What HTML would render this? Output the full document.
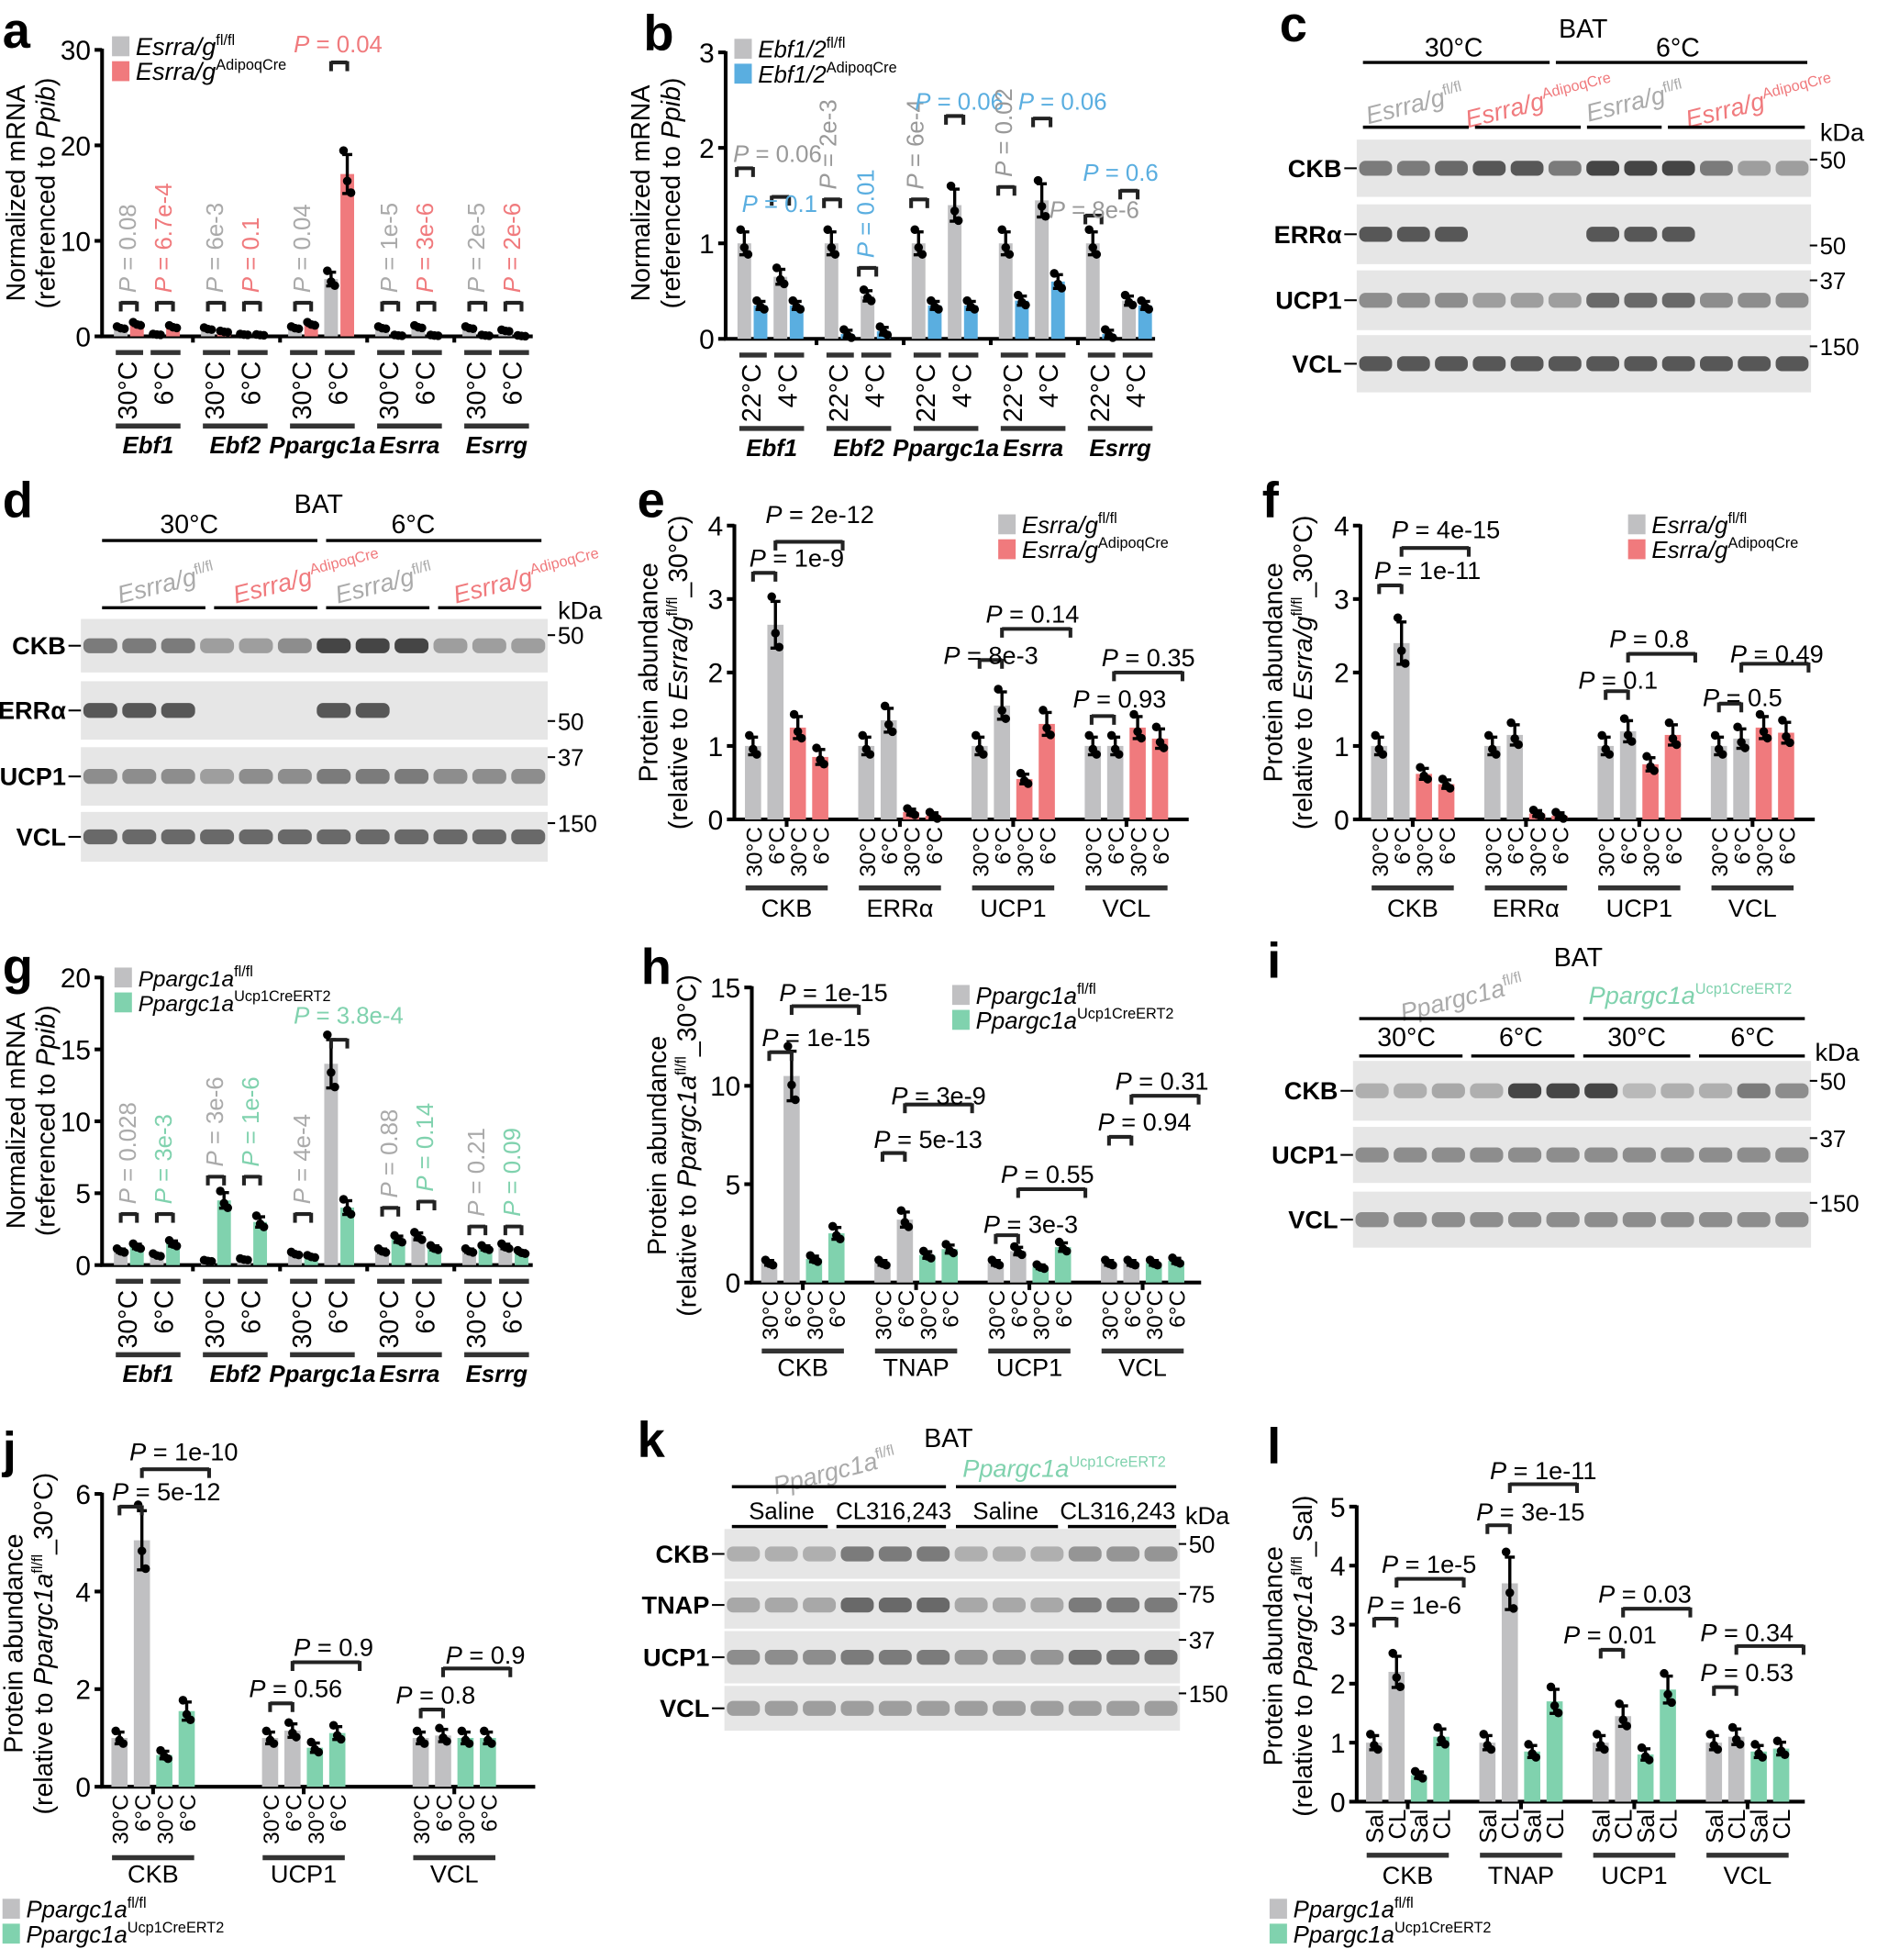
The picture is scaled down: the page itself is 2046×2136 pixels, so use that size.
<!DOCTYPE html>
<html><head><meta charset="utf-8"><style>
html,body{margin:0;padding:0;background:#fff;}
svg{display:block;}
text{font-family:"Liberation Sans",Arial,sans-serif;}
</style></head><body>
<svg id="s" xmlns="http://www.w3.org/2000/svg" width="2046" height="2136" viewBox="0 0 1508 1574"></svg>
<script>
let s='';
const GR='#c0c0c2',RD='#f07a7d',BL='#5aaee0',GN='#80d2ae';
const R=(x,y,w,h,f,o=1)=>s+=`<rect x="${x}" y="${y}" width="${w}" height="${h}" fill="${f}" opacity="${o}"/>`;
const L=(x1,y1,x2,y2,w=2.5,c='#000')=>s+=`<line x1="${x1}" y1="${y1}" x2="${x2}" y2="${y2}" stroke="${c}" stroke-width="${w}"/>`;
const T=(x,y,t,sz=20,a='middle',f='#000',ex='')=>s+=`<text x="${x}" y="${y}" font-size="${sz}" text-anchor="${a}" fill="${f}" ${ex}>${t}</text>`;
const TR=(x,y,t,sz=20,a='end',f='#000',ex='')=>s+=`<text x="${x}" y="${y}" font-size="${sz}" text-anchor="${a}" fill="${f}" transform="rotate(-90 ${x} ${y})" ${ex}>${t}</text>`;
const C=(x,y,r=3.5)=>s+=`<circle cx="${x}" cy="${y}" r="${r}" fill="#000"/>`;
function axis(x,y0,ppu,ticks,xend){
  L(x,y0,x,y0-ppu*ticks[ticks.length-1]-1,3);
  ticks.forEach(t=>{const y=y0-ppu*t;L(x-6,y,x,y,3);T(x-9,y+8,t,22,'end');});
  L(x-1.5,y0,xend,y0,3);
}
function bar(x,w,y0,ppu,v,c){
  const h=v*ppu;R(x-w/2,y0-h,w,h,c);
  const e=Math.max(v*0.12,0.04)*ppu;
  L(x,y0-h-e,x,y0-h+e,2.5);L(x-4,y0-h-e,x+4,y0-h-e,2.5);L(x-4,y0-h+e,x+4,y0-h+e,2.5);
  const d=[-1,0.3,0.8,-0.4];
  for(let i=0;i<3;i++)C(x+(i-1)*3,y0-h+d[i]*e*1.2);
}
function bracket(x1,x2,y,c='#222'){L(x1,y,x2,y,3,c);L(x1,y-1,x1,y+7,3,c);L(x2,y-1,x2,y+7,3,c);}
function P(x,y,v,sz=20,c='#000',a='start'){T(x,y,`<tspan font-style="italic">P</tspan> = ${v}`,sz,a,c);}
function PR(x,y,v,c){TR(x,y,`<tspan font-style="italic">P</tspan> = ${v}`,19,'start',c);}
function ytitle(x,y,l1,l2){TR(x,y,l1,21,'middle');TR(x+24,y,l2,21,'middle');}
function leg(x,y,c1,c2,n,s1,s2,sz=20){R(x,y-15,14,16,c1);R(x,y+5,14,16,c2);
  T(x+19,y,`<tspan font-style="italic">${n}</tspan><tspan font-size="12" dy="-8">${s1}</tspan>`,sz,'start');
  T(x+19,y+20,`<tspan font-style="italic">${n}</tspan><tspan font-size="12" dy="-8">${s2}</tspan>`,sz,'start');}
function blot(x,y,w,h,n,ints,label){
  R(x,y,w,h,'#e6e6e6');
  const lw=w/n;
  for(let i=0;i<n;i++){const v=ints[i%ints.length];if(v>0)s+=`<rect x="${x+i*lw+2}" y="${y+h/2-6}" width="${lw-4}" height="12" rx="5" fill="#333" opacity="${v}"/>`;}
  T(x-12,y+h/2+7,label,20,'end','#000','font-weight="bold"');L(x-10,y+h/2,x,y+h/2,1.5);
}
function kd(x,y,t){L(x-6,y,x,y,1.5);T(x+2,y+7,t,19,'start');}
function letter(x,y,l){T(x,y,l,40,'start','#000','font-weight="bold"');}
function rot4(x,labs,y,sz){labs.forEach((l,i)=>TR(x[i]+7,y,l,sz));}

/* ===== a ===== */
letter(2,38,'a');
axis(82,270,7.67,[0,10,20,30],428);
ytitle(20,155,'Normalized mRNA','(referenced to <tspan font-style="italic">Ppib</tspan>)');
leg(90,44,GR,RD,'Esrra/g','fl/fl','AdipoqCre');
function genepanel(ax,y0,ppu,vals,c2,gen,pv,py,condA,condB){
  vals.forEach((v,i)=>{const g=ax+6+70*i;
    bar(g+9,11,y0,ppu,v[0],GR);bar(g+22,11,y0,ppu,v[1],c2);
    bar(g+38,11,y0,ppu,v[2],GR);bar(g+51,11,y0,ppu,v[3],c2);
    L(g+5,y0+13,g+27,y0+13,4,'#333');L(g+33,y0+13,g+57,y0+13,4,'#333');
    TR(g+22,y0+20,condA,21);TR(g+51,y0+20,condB,21);
    L(g+5,y0+72,g+57,y0+72,4,'#333');
    T(g+31,y0+94,gen[i],19,'middle','#000','font-weight="bold" font-style="italic"');
    if(i>0)L(g-3,y0,g-3,y0+5,3);
    if(pv){
      if(pv[i][0]){bracket(g+9,g+22,py[i][0]);PR(g+21,py[i][0]-8,pv[i][0],'#aaa');}
      if(pv[i][1]){bracket(g+38,g+51,py[i][1]);PR(g+50,py[i][1]-8,pv[i][1],c2);}
    }
  });
}
genepanel(82,270,7.67,[[0.9,1.3,0.2,1],[0.8,0.5,0.2,0.15],[0.9,1.3,6,17],[0.9,0.1,1,0.1],[0.9,0.1,0.6,0.05]],RD,
 ['Ebf1','Ebf2','Ppargc1a','Esrra','Esrrg'],
 [['0.08','6.7e-4'],['6e-3','0.1'],['0.04',''],['1e-5','3e-6'],['2e-5','2e-6']],
 [[243,243],[243,243],[243,243],[243,243],[243,243]],'30°C','6°C');
bracket(266,279,50);P(236,42,'0.04',19,RD);

/* ===== b ===== */
letter(517,40,'b');
axis(583,272,76.7,[0,1,2,3],928);
ytitle(522,155,'Normalized mRNA','(referenced to <tspan font-style="italic">Ppib</tspan>)');
leg(590,46,GR,BL,'Ebf1/2','fl/fl','AdipoqCre',19);
genepanel(583,272,76.7,[[1,0.35,0.65,0.35],[1,0.05,0.45,0.08],[1,0.35,1.4,0.35],[1,0.4,1.45,0.6],[1,0.05,0.4,0.35]],BL,
 ['Ebf1','Ebf2','Ppargc1a','Esrra','Esrrg'],null,null,'22°C','4°C');
bracket(592,605,135);P(589,130,'0.06',19,'#999');bracket(620,634,158);P(596,170,'0.1',19,BL);
bracket(662,675,160);PR(672,152,'2e-3','#999');bracket(690,704,215);PR(702,207,'0.01',BL);
bracket(732,745,160);PR(742,152,'6e-4','#999');bracket(760,774,93);P(735,88,'0.06',19,BL);
bracket(802,815,150);PR(813,142,'0.02','#999');bracket(830,844,95);P(818,88,'0.06',19,BL);
bracket(872,885,173);P(843,175,'8e-6',19,'#999');bracket(900,914,153);P(870,145,'0.6',19,BL);

/* ===== c ===== */
letter(1028,33,'c');
T(1272,30,'BAT',21);T(1168,45,'30°C',21);T(1348,45,'6°C',21);
L(1095,50,1245,50,2.5);L(1250,50,1452,50,2.5);
const gl=(x,y,t,sup,c)=>T(x,y,`<tspan font-style="italic">${t}</tspan><tspan font-size="12" dy="-8">${sup}</tspan>`,20,'middle',c,`transform="rotate(-14 ${x} ${y})"`);
gl(1138,90,'Esrra/g','fl/fl','#aaa');gl(1238,88,'Esrra/g','AdipoqCre',RD);gl(1315,88,'Esrra/g','fl/fl','#aaa');gl(1415,88,'Esrra/g','AdipoqCre',RD);
L(1095,102,1180,102,2.5);L(1185,102,1270,102,2.5);L(1275,102,1335,102,2.5);L(1340,102,1450,102,2.5);
T(1480,113,'kDa',20);
blot(1090,112,365,46,12,[.6,.6,.7,.8,.8,.6,.9,.9,.9,.6,.4,.4],'CKB');kd(1460,128,'50');
blot(1090,164,365,48,12,[.8,.8,.8,0,0,0,.8,.8,.8,0,0,0],'ERRα');kd(1460,197,'50');
blot(1090,217,365,48,12,[.5,.5,.5,.4,.4,.4,.7,.7,.7,.5,.5,.5],'UCP1');kd(1460,225,'37');
blot(1090,269,365,46,12,[.8],'VCL');kd(1460,278,'150');

/* ===== d ===== */
letter(2,415,'d');
T(256,412,'BAT',21);T(152,428,'30°C',21);T(332,428,'6°C',21);
L(82,434,255,434,2.5);L(262,434,435,434,2.5);
gl(135,475,'Esrra/g','fl/fl','#aaa');gl(248,470,'Esrra/g','AdipoqCre',RD);gl(310,475,'Esrra/g','fl/fl','#aaa');gl(425,470,'Esrra/g','AdipoqCre',RD);
L(82,488,165,488,2.5);L(172,488,255,488,2.5);L(262,488,345,488,2.5);L(352,488,435,488,2.5);
T(466,497,'kDa',20);
blot(65,497,375,43,12,[.6,.6,.6,.4,.4,.5,.9,.9,.9,.4,.4,.4],'CKB');kd(446,510,'50');
blot(65,547,375,47,12,[.8,.8,.8,0,0,0,.8,.8,0,0,0,0],'ERRα');kd(446,579,'50');
blot(65,600,375,47,12,[.5,.5,.5,.4,.5,.5,.6,.6,.6,.5,.5,.5],'UCP1');kd(446,608,'37');
blot(65,652,375,40,12,[.7],'VCL');kd(446,661,'150');

/* ===== protein panels ===== */
function protpanel(ax,y0,ppu,ticks,xend,groups,vals,c2,labs,gw,off,ly,ny,sz=18){
  axis(ax,y0,ppu,ticks,xend);
  vals.forEach((v,i)=>{const g=ax+off+gw*i;const xs=[g,g+18,g+36,g+54];
    xs.forEach((x,j)=>bar(x,13,y0,ppu,v[j],j<2?GR:c2));
    rot4(xs,labs,y0+6,sz);
    L(g-6,y0+ly,g+60,y0+ly,4,'#333');
    T(g+27,y0+ny,groups[i],20);
    L(g+27,y0,g+27,y0+6,3);
  });
}
/* e */
letter(512,415,'e');
ytitle(528,540,'Protein abundance','(relative to <tspan font-style="italic">Esrra/g</tspan><tspan font-size="12" dy="-8">fl/fl</tspan><tspan dy="8">_30°C)</tspan>');
protpanel(590,658,59,[0,1,2,3,4],955,['CKB','ERRα','UCP1','VCL'],[[1,2.65,1.25,0.85],[1,1.35,0.1,0.05],[1,1.55,0.55,1.3],[1,1,1.25,1.1]],RD,['30°C','6°C','30°C','6°C'],91,15,55,78);
leg(802,428,GR,RD,'Esrra/g','fl/fl','AdipoqCre',19);
bracket(605,623,460);P(602,455,'1e-9');bracket(623,677,435);P(615,420,'2e-12');
bracket(787,805,530);P(758,533,'8e-3');bracket(805,860,505);P(792,500,'0.14');
bracket(877,895,575);P(862,568,'0.93');bracket(895,950,540);P(885,535,'0.35');

/* f */
letter(1014,415,'f');
ytitle(1030,540,'Protein abundance','(relative to <tspan font-style="italic">Esrra/g</tspan><tspan font-size="12" dy="-8">fl/fl</tspan><tspan dy="8">_30°C)</tspan>');
protpanel(1093,658,59,[0,1,2,3,4],1458,['CKB','ERRα','UCP1','VCL'],[[1,2.4,0.62,0.48],[1,1.15,0.08,0.05],[1,1.2,0.75,1.15],[1,1.1,1.25,1.18]],RD,['30°C','6°C','30°C','6°C'],91,15,55,78);
leg(1308,428,GR,RD,'Esrra/g','fl/fl','AdipoqCre',19);
bracket(1108,1126,470);P(1104,465,'1e-11');bracket(1126,1180,440);P(1118,432,'4e-15');
bracket(1290,1308,555);P(1268,553,'0.1');bracket(1308,1362,525);P(1293,520,'0.8');
bracket(1381,1399,565);P(1368,567,'0.5');bracket(1399,1453,533);P(1390,532,'0.49');

/* ===== g ===== */
letter(2,790,'g');
axis(82,1016,11.55,[0,5,10,15,20],428);
ytitle(20,900,'Normalized mRNA','(referenced to <tspan font-style="italic">Ppib</tspan>)');
leg(92,792,GR,GN,'Ppargc1a','fl/fl','Ucp1CreERT2',18);
genepanel(82,1016,11.55,[[1,1.3,0.7,1.5],[0.3,4.5,0.4,3],[0.8,0.6,14,4],[1,1.8,2,1.2],[1,1.2,1.3,0.9]],GN,
 ['Ebf1','Ebf2','Ppargc1a','Esrra','Esrrg'],
 [['0.028','3e-3'],['3e-6','1e-6'],['4e-4',''],['0.88','0.14'],['0.21','0.09']],
 [[975,975],[945,945],[975,975],[970,965],[985,985]],'30°C','6°C');
bracket(266,279,835);P(236,822,'3.8e-4',19,GN);

/* ===== h ===== */
letter(515,790,'h');
ytitle(535,920,'Protein abundance','(relative to <tspan font-style="italic">Ppargc1a</tspan><tspan font-size="12" dy="-8">fl/fl</tspan><tspan dy="8">_30°C)</tspan>');
protpanel(604,1030,15.8,[0,5,10,15],965,['CKB','TNAP','UCP1','VCL'],[[1,10.5,1.2,2.5],[1,3.2,1.4,1.7],[1,1.6,0.8,1.8],[1,1,1,1.1]],GN,['30°C','6°C','30°C','6°C'],91,14,55,75);
leg(765,806,GR,GN,'Ppargc1a','fl/fl','Ucp1CreERT2',19);
bracket(618,636,845);P(612,840,'1e-15');bracket(636,690,808);P(626,804,'1e-15');
bracket(709,727,926);P(702,922,'5e-13');bracket(727,781,887);P(716,887,'3e-9');
bracket(800,818,992);P(790,990,'3e-3');bracket(818,872,955);P(804,950,'0.55');
bracket(891,909,913);P(882,908,'0.94');bracket(909,963,880);P(896,875,'0.31');

/* ===== i ===== */
letter(1018,785,'i');
T(1268,776,'BAT',21);
gl(1176,808,'Ppargc1a','fl/fl','#aaa');
T(1358,806,`<tspan font-style="italic">Ppargc1a</tspan><tspan font-size="12" dy="-8">Ucp1CreERT2</tspan>`,20,'middle',GN);
L(1092,818,1265,818,2.5);L(1272,818,1450,818,2.5);
T(1130,840,'30°C',21);T(1222,840,'6°C',21);T(1315,840,'30°C',21);T(1408,840,'6°C',21);
L(1092,848,1175,848,2.5);L(1182,848,1265,848,2.5);L(1272,848,1358,848,2.5);L(1365,848,1450,848,2.5);
T(1476,852,'kDa',20);
blot(1087,852,368,48,12,[.3,.3,.35,.3,.9,.9,.9,.25,.3,.3,.6,.5],'CKB');kd(1460,868,'50');
blot(1087,905,368,45,12,[.5],'UCP1');kd(1460,914,'37');
blot(1087,957,368,45,12,[.5],'VCL');kd(1460,966,'150');

/* ===== j ===== */
letter(2,1178,'j');
ytitle(18,1320,'Protein abundance','(relative to <tspan font-style="italic">Ppargc1a</tspan><tspan font-size="12" dy="-8">fl/fl</tspan><tspan dy="8">_30°C)</tspan>');
protpanel(82,1435,39.2,[0,2,4,6],430,['CKB','UCP1','VCL'],[[1,5.05,0.65,1.55],[1,1.15,0.8,1.1],[1,1.05,1,1]],GN,['30°C','6°C','30°C','6°C'],121,14,57,77);
bracket(96,114,1210);P(90,1205,'5e-12');bracket(114,168,1180);P(104,1173,'1e-10');
bracket(217,235,1368);P(200,1363,'0.56');bracket(235,289,1335);P(236,1330,'0.9');
bracket(338,356,1373);P(318,1368,'0.8');bracket(356,410,1340);P(358,1336,'0.9');
leg(2,1540,GR,GN,'Ppargc1a','fl/fl','Ucp1CreERT2',19);

/* ===== k ===== */
letter(512,1170,'k');
T(762,1162,'BAT',21);
gl(672,1188,'Ppargc1a','fl/fl','#aaa');
T(855,1186,`<tspan font-style="italic">Ppargc1a</tspan><tspan font-size="12" dy="-8">Ucp1CreERT2</tspan>`,20,'middle',GN);
L(588,1194,760,1194,2.5);L(768,1194,945,1194,2.5);
T(628,1220,'Saline',19);T(718,1220,'CL316,243',19);T(808,1220,'Saline',19);T(898,1220,'CL316,243',19);
L(588,1226,665,1226,2.5);L(672,1226,760,1226,2.5);L(768,1226,850,1226,2.5);L(858,1226,945,1226,2.5);
T(970,1224,'kDa',20);
blot(582,1228,366,40,12,[.3,.3,.3,.6,.6,.6,.3,.3,.3,.45,.45,.45],'CKB');kd(953,1240,'50');
blot(582,1270,366,38,12,[.35,.35,.35,.7,.7,.7,.35,.35,.35,.6,.6,.6],'TNAP');kd(953,1280,'75');
blot(582,1310,366,42,12,[.5,.5,.5,.6,.6,.6,.45,.45,.45,.65,.65,.65],'UCP1');kd(953,1317,'37');
blot(582,1354,366,36,12,[.4],'VCL');kd(953,1360,'150');

/* ===== l ===== */
letter(1018,1175,'l');
ytitle(1030,1330,'Protein abundance','(relative to <tspan font-style="italic">Ppargc1a</tspan><tspan font-size="12" dy="-8">fl/fl</tspan><tspan dy="8">_Sal)</tspan>');
protpanel(1090,1447,47.4,[0,1,2,3,4,5],1450,['CKB','TNAP','UCP1','VCL'],[[1,2.2,0.45,1.1],[1,3.7,0.85,1.7],[1,1.45,0.8,1.9],[1,1.1,0.85,0.9]],GN,['Sal','CL','Sal','CL'],91,14,43,66,19);
bracket(1104,1122,1300);P(1098,1296,'1e-6');bracket(1122,1176,1268);P(1110,1263,'1e-5');
bracket(1195,1213,1225);P(1186,1221,'3e-15');bracket(1213,1267,1192);P(1197,1188,'1e-11');
bracket(1286,1304,1325);P(1256,1320,'0.01');bracket(1304,1358,1292);P(1284,1287,'0.03');
bracket(1377,1395,1355);P(1366,1350,'0.53');bracket(1395,1449,1322);P(1366,1318,'0.34');
leg(1020,1540,GR,GN,'Ppargc1a','fl/fl','Ucp1CreERT2',19);

document.getElementById('s').innerHTML=s;
</script>
</body></html>
